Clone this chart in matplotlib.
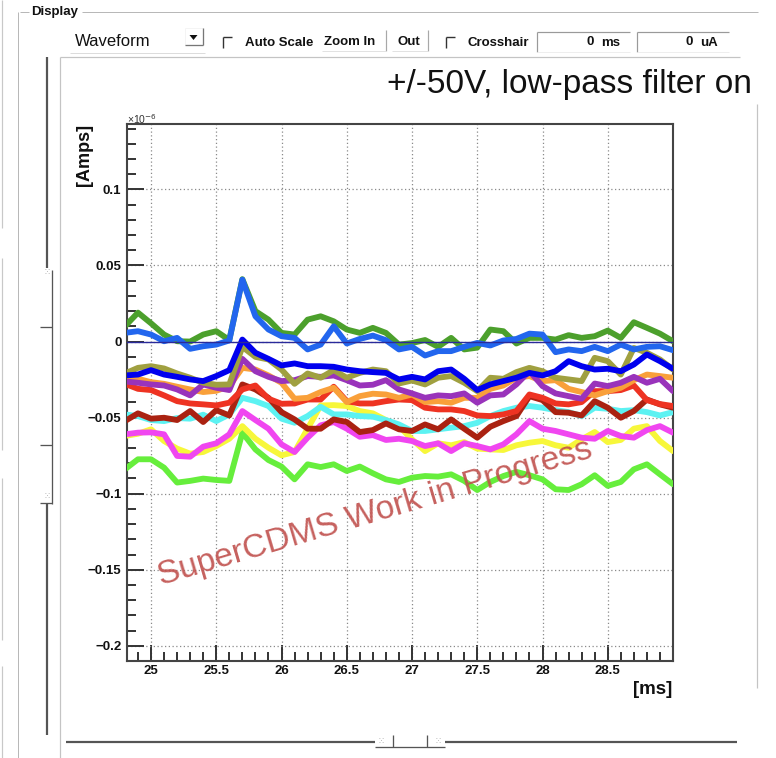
import matplotlib
matplotlib.use("Agg")
import matplotlib.pyplot as plt
from matplotlib.ticker import FixedLocator, FixedFormatter, MultipleLocator

W, H = 776, 758
PX = 72.0 / 100.0  # points per pixel at dpi=100

# ---------------------------------------------------------------- data
time_ms = [24.8, 24.9, 25.0, 25.1, 25.2, 25.3, 25.4, 25.5, 25.6, 25.7,
           25.8, 25.9, 26.0, 26.1, 26.2, 26.3, 26.4, 26.5, 26.6, 26.7,
           26.8, 26.9, 27.0, 27.1, 27.2, 27.3, 27.4, 27.5, 27.6, 27.7,
           27.8, 27.9, 28.0, 28.1, 28.2, 28.3, 28.4, 28.5, 28.6, 28.7,
           28.8, 28.9, 29.0]

# currents in units of 1e-6 A
ch_green = [0.010, 0.019, 0.012, 0.0046, 0.0002, 0.000, 0.0046, 0.0068, 0.001, 0.041,
            0.020, 0.0144, 0.0057, 0.0046, 0.0144, 0.0166, 0.0133, 0.0079, 0.0057, 0.009,
            0.0057, -0.002, -0.001, 0.001, -0.0035, 0.0024, -0.0052, -0.004, 0.0079, 0.0068,
            -0.0013, 0.0024, 0.0024, 0.0013, 0.0042, 0.0024, 0.0035, 0.0072, 0.0024, 0.0127,
            0.009, 0.0052, 0.0002]
ch_azure = [0.0057, 0.0068, 0.0046, 0.0002, 0.0024, -0.0048, -0.0031, -0.002, 0.0007, 0.0407,
            0.0166, 0.0079, 0.0035, 0.0024, -0.0052, -0.002, 0.010, -0.0013, 0.0017, 0.0039,
            0.0009, -0.0052, -0.0035, -0.0092, -0.0063, -0.0063, -0.0035, -0.0009, -0.0026, 0.0007,
            0.0017, 0.0052, 0.0046, -0.007, -0.0052, -0.0063, -0.0035, -0.0063, -0.002, -0.0052,
            -0.0035, -0.0031, -0.0057]
ch_blue = [-0.0223, -0.0217, -0.0188, -0.0217, -0.0232, -0.0249, -0.026, -0.0227, -0.0188, 0.0013,
           -0.0074, -0.0114, -0.0157, -0.0144, -0.0162, -0.0162, -0.0166, -0.0184, -0.0195, -0.0201,
           -0.0206, -0.0249, -0.0232, -0.0249, -0.0195, -0.0184, -0.0245, -0.0319, -0.0282, -0.026,
           -0.0238, -0.0206, -0.0223, -0.0195, -0.0129, -0.0162, -0.0184, -0.0179, -0.0195, -0.0151,
           -0.0085, -0.0129, -0.0179]
ch_olive = [-0.021, -0.0173, -0.0162, -0.0177, -0.021, -0.0238, -0.0271, -0.0284, -0.0282, -0.0035,
            -0.0101, -0.0118, -0.0184, -0.0278, -0.021, -0.0238, -0.0188, -0.0238, -0.0206, -0.0184,
            -0.0195, -0.0276, -0.0256, -0.0282, -0.0238, -0.0227, -0.0271, -0.0326, -0.0238, -0.0245,
            -0.0201, -0.0173, -0.0195, -0.0238, -0.0249, -0.026, -0.0107, -0.0129, -0.0217, -0.0042,
            -0.0074, -0.0118, -0.0184]
ch_purple = [-0.0262, -0.0271, -0.0282, -0.0289, -0.0315, -0.0354, -0.0282, -0.0304, -0.0319, -0.0114,
             -0.0195, -0.0232, -0.026, -0.0254, -0.0227, -0.0232, -0.0223, -0.0254, -0.0289, -0.0284,
             -0.0254, -0.0315, -0.0341, -0.037, -0.0354, -0.0359, -0.0341, -0.0402, -0.0354, -0.0348,
             -0.0282, -0.0195, -0.0293, -0.0341, -0.0359, -0.0376, -0.0276, -0.0293, -0.0271, -0.0232,
             -0.0271, -0.0245, -0.0326]
ch_orange = [-0.0223, -0.0245, -0.0267, -0.0278, -0.0297, -0.0315, -0.0332, -0.0324, -0.0293, -0.0173,
             -0.0184, -0.0223, -0.0271, -0.0376, -0.037, -0.0332, -0.0304, -0.0398, -0.0359, -0.0343,
             -0.0348, -0.037, -0.0348, -0.0398, -0.0392, -0.0402, -0.037, -0.037, -0.0311, -0.0289,
             -0.0238, -0.0227, -0.026, -0.0254, -0.0311, -0.0332, -0.0354, -0.0326, -0.0304, -0.0254,
             -0.0217, -0.0227, -0.0238]
ch_red = [-0.0278, -0.0311, -0.0319, -0.0354, -0.0392, -0.0407, -0.0413, -0.042, -0.0402, -0.0315,
          -0.0289, -0.0376, -0.0409, -0.0407, -0.0381, -0.0381, -0.0297, -0.0392, -0.0407, -0.0407,
          -0.0392, -0.0381, -0.0385, -0.0435, -0.0446, -0.0446, -0.0457, -0.0486, -0.049, -0.0479,
          -0.0457, -0.0348, -0.037, -0.0407, -0.0413, -0.0398, -0.0326, -0.0326, -0.0319, -0.0289,
          -0.0385, -0.0411, -0.0424]
ch_maroon = [-0.0523, -0.0472, -0.0507, -0.0501, -0.0516, -0.0457, -0.0529, -0.0451, -0.0486, -0.0282,
             -0.0315, -0.037, -0.0464, -0.0512, -0.0573, -0.0573, -0.0512, -0.0529, -0.0595, -0.0582,
             -0.0538, -0.0577, -0.0588, -0.0545, -0.0577, -0.0512, -0.0573, -0.0632, -0.056, -0.0523,
             -0.049, -0.0359, -0.0385, -0.0464, -0.0468, -0.0486, -0.0392, -0.0435, -0.0501, -0.0457,
             -0.0381, -0.0413, -0.0435]
ch_cyan = [-0.0479, -0.049, -0.0516, -0.0523, -0.0503, -0.0507, -0.0481, -0.0523, -0.0479, -0.037,
           -0.0392, -0.0424, -0.0507, -0.0534, -0.049, -0.0429, -0.0479, -0.0479, -0.049, -0.0494,
           -0.0516, -0.0545, -0.0588, -0.0588, -0.0577, -0.0566, -0.0556, -0.0534, -0.049, -0.0457,
           -0.0435, -0.0424, -0.0435, -0.0451, -0.0464, -0.049, -0.0435, -0.0442, -0.0457, -0.0451,
           -0.0464, -0.0486, -0.0464]
ch_magenta = [-0.061, -0.0599, -0.0597, -0.061, -0.0752, -0.0757, -0.0691, -0.0669, -0.061, -0.0457,
              -0.0516, -0.0573, -0.0676, -0.0726, -0.0632, -0.0551, -0.0529, -0.0573, -0.0626, -0.0615,
              -0.0647, -0.0639, -0.0654, -0.0687, -0.0669, -0.072, -0.0669, -0.0687, -0.0709, -0.0676,
              -0.061, -0.0523, -0.0573, -0.0588, -0.061, -0.0632, -0.0639, -0.0588, -0.0621, -0.0632,
              -0.0582, -0.0556, -0.0599]
ch_yellow = [-0.0621, -0.0606, -0.0577, -0.0654, -0.0704, -0.0737, -0.0726, -0.0687, -0.0639, -0.0556,
             -0.0639, -0.0698, -0.0748, -0.0726, -0.0573, -0.042, -0.0418, -0.0424, -0.0457, -0.0472,
             -0.0516, -0.0556, -0.0643, -0.072, -0.0669, -0.0682, -0.0661, -0.0704, -0.0709, -0.0713,
             -0.0682, -0.0665, -0.0654, -0.0682, -0.0698, -0.0643, -0.0595, -0.0661, -0.0647, -0.0573,
             -0.0556, -0.0654, -0.072]
ch_lime = [-0.084, -0.0774, -0.0774, -0.0829, -0.0927, -0.0916, -0.0901, -0.091, -0.0916, -0.0599,
           -0.0709, -0.0779, -0.0822, -0.0906, -0.0807, -0.0825, -0.0807, -0.0851, -0.0822, -0.0866,
           -0.0906, -0.0923, -0.0895, -0.0884, -0.0888, -0.0873, -0.0916, -0.0976, -0.0923, -0.0884,
           -0.0857, -0.0879, -0.0906, -0.0971, -0.0976, -0.0938, -0.0879, -0.0949, -0.0923, -0.084,
           -0.0807, -0.0873, -0.0938]

# drawing order: first entry at the bottom
traces = [
    (ch_lime, "#66ee3c"),
    (ch_yellow, "#f7f73a"),
    (ch_magenta, "#f046f0"),
    (ch_cyan, "#5cf2f2"),
    (ch_maroon, "#aa2211"),
    (ch_red, "#ee3322"),
    (ch_orange, "#f9a03a"),
    (ch_purple, "#9933bb"),
    (ch_olive, "#a0a040"),
    (ch_blue, "#0000ee"),
    (ch_green, "#4ca02c"),
    (ch_azure, "#2266ee"),
]

x_major = [25.0, 25.5, 26.0, 26.5, 27.0, 27.5, 28.0, 28.5]
x_labels = ["25", "25.5", "26", "26.5", "27", "27.5", "28", "28.5"]
y_major = [-0.2, -0.15, -0.1, -0.05, 0.0, 0.05, 0.1]
y_labels = ["\u22120.2", "\u22120.15", "\u22120.1", "\u22120.05", "0", "0.05", "0.1"]

FONT = "Liberation Sans"
plt.rcParams["font.family"] = [FONT, "DejaVu Sans"]

fig = plt.figure(figsize=(W / 100, H / 100), dpi=100)
fig.patch.set_facecolor("white")

# ------------------------------------------------------------ GUI frame
gui = fig.add_axes([0, 0, 1, 1], zorder=0)
gui.set_xlim(0, W)
gui.set_ylim(H, 0)
gui.axis("off")


def seg(xs, ys, color="#b8b8b8", lw=1.0):
    gui.plot(xs, ys, color=color, lw=lw * PX, solid_capstyle="butt")


# neighbouring panel edges at far left
for y0, y1 in [(0, 228), (258, 450), (478, 640), (666, 758)]:
    seg([2, 2], [y0, y1], "#c8c8c8", 1.2)

# "Display" group box
seg([20, 29], [12, 12])
seg([82, 758], [12, 12])
seg([18, 18], [12, 758])
gui.text(31, 12, "Display", fontsize=9.5, fontweight="bold", va="center", ha="left",
         color="#111111")

# tool bar
gui.text(75, 41, "Waveform", fontsize=12, va="center", ha="left", color="#111111")
seg([185, 203], [28, 28], "#f4f4f4", 1)
seg([185, 185], [28, 45], "#f4f4f4", 1)
seg([203, 203], [28, 45], "#777777", 1.3)
seg([185, 203], [45, 45], "#777777", 1.3)
gui.fill([189.5, 197.5, 193.5], [35, 35, 40], color="#111111", lw=0)
seg([70, 205], [53, 53], "#dcdcdc", 1)

for cx in (223, 446):
    seg([cx, cx + 9], [37, 37], "#333333", 1.4)
    seg([cx, cx], [37, 48], "#333333", 1.4)
gui.text(245, 43, "Auto Scale", fontsize=9.5, fontweight="bold", va="center", ha="left",
         color="#111111")
gui.text(324, 42, "Zoom In", fontsize=9.5, fontweight="bold", va="center", ha="left",
         color="#111111")
seg([386, 386], [30, 51], "#a8a8a8", 1.2)
seg([322, 386], [51, 51], "#e2e2e2", 1)
gui.text(397, 42, "Out", fontsize=9.5, fontweight="bold", va="center", ha="left",
         color="#111111")
seg([428, 428], [30, 51], "#a8a8a8", 1.2)
seg([392, 428], [51, 51], "#e2e2e2", 1)
gui.text(468, 43, "Crosshair", fontsize=9.5, fontweight="bold", va="center", ha="left",
         color="#111111")

for bx0, bx1 in [(537, 630), (637, 729)]:
    seg([bx0, bx1], [32, 32], "#9a9a9a", 1.2)
    seg([bx0, bx0], [32, 52], "#9a9a9a", 1.2)
    seg([bx0, bx1], [52, 52], "#eeeeee", 1)
gui.text(594, 42, "0", fontsize=9.5, fontweight="bold", va="center", ha="right", color="#111111")
gui.text(601, 43, "ms", fontsize=9.5, fontweight="bold", va="center", ha="left", color="#111111")
gui.text(693, 42, "0", fontsize=9.5, fontweight="bold", va="center", ha="right", color="#111111")
gui.text(700, 43, "uA", fontsize=9.5, fontweight="bold", va="center", ha="left", color="#111111")

# canvas border
seg([60, 740], [57, 57], "#c4c4c4", 1.2)
seg([60, 60], [57, 758], "#c4c4c4", 1.2)
seg([757, 757], [104, 688], "#c4c4c4", 1.2)

# vertical slider
seg([47, 47], [57, 268], "#555555", 2.2)
seg([52, 52], [270, 504], "#555555", 1.3)
seg([40, 52], [327, 327], "#555555", 1.3)
seg([40, 52], [445, 445], "#555555", 1.3)
seg([40, 52], [503, 503], "#555555", 1.3)
seg([47, 47], [504, 735], "#555555", 2.2)
for gy in (273, 497):
    gui.text(47, gy, "\u2059", fontsize=6, ha="center", va="center", color="#9a9a9a",
             family=["DejaVu Sans"])

# horizontal slider
seg([66, 375], [742, 742], "#555555", 2.2)
seg([375, 445], [747, 747], "#555555", 1.3)
seg([393, 393], [735, 747], "#555555", 1.3)
seg([427, 427], [735, 747], "#555555", 1.3)
seg([445, 737], [742, 742], "#555555", 2.2)
for gx in (381, 438):
    gui.text(gx, 742, "\u2059", fontsize=6, ha="center", va="center", color="#9a9a9a",
             family=["DejaVu Sans"])

# ------------------------------------------------------------ plot area
left, right, top, bottom = 127, 673, 124, 661
ax = fig.add_axes([left / W, 1 - bottom / H, (right - left) / W, (bottom - top) / H], zorder=2)
ax.set_facecolor("white")

for ys, col in traces:
    ax.plot(time_ms, ys, color=col, lw=4.2, solid_joinstyle="round", solid_capstyle="round",
            zorder=3)
ax.axhline(0.0, color="#2a2a9a", lw=1.0, zorder=5)

ax.set_xlim(24.816, 29.0)
ax.set_ylim(-0.21, 0.143)

ax.xaxis.set_major_locator(FixedLocator(x_major))
ax.xaxis.set_major_formatter(FixedFormatter(x_labels))
ax.xaxis.set_minor_locator(MultipleLocator(0.1))
ax.yaxis.set_major_locator(FixedLocator(y_major))
ax.yaxis.set_major_formatter(FixedFormatter(y_labels))
ax.yaxis.set_minor_locator(MultipleLocator(0.01))

ax.tick_params(which="both", direction="in", top=False, right=False, color="#333333",
               width=1.4)
ax.tick_params(axis="y", which="major", length=17 * PX, pad=4)
ax.tick_params(axis="y", which="minor", length=9 * PX)
ax.tick_params(axis="x", which="major", length=16 * PX, pad=3)
ax.tick_params(axis="x", which="minor", length=9 * PX)
for lab in ax.get_xticklabels() + ax.get_yticklabels():
    lab.set_fontweight("bold")
    lab.set_fontsize(9.5)
    lab.set_color("#111111")

ax.grid(True, which="major", color="#8a8a8a", lw=0.9, linestyle=(0, (1, 2)))
ax.set_axisbelow(True)
for side in ("left", "bottom", "right", "top"):
    ax.spines[side].set_color("#444444")
    ax.spines[side].set_linewidth(1.5)

fig.text(84 / W, 1 - 155 / H, "[Amps]", rotation=90, fontsize=13, fontweight="bold",
         ha="center", va="center", color="#111111")
fig.text(127 / W, 1 - 119 / H, "\u00d710$^{-6}$", fontsize=7.5, ha="left", va="center",
         color="#333333")
fig.text(672 / W, 1 - 690 / H, "[ms]", fontsize=13.5, fontweight="bold", ha="right",
         va="center", color="#111111")

fig.text(752 / W, 1 - 84 / H, "+/-50V, low-pass filter on", fontsize=24, ha="right",
         va="center", color="#111111")

ax.text(0.455, 0.275, "SuperCDMS Work in Progress", transform=ax.transAxes, fontsize=24,
        rotation=16.5, ha="center", va="center", color="#c0504d", alpha=0.9, zorder=6)

fig.savefig("out.png", dpi=100, facecolor="white")
